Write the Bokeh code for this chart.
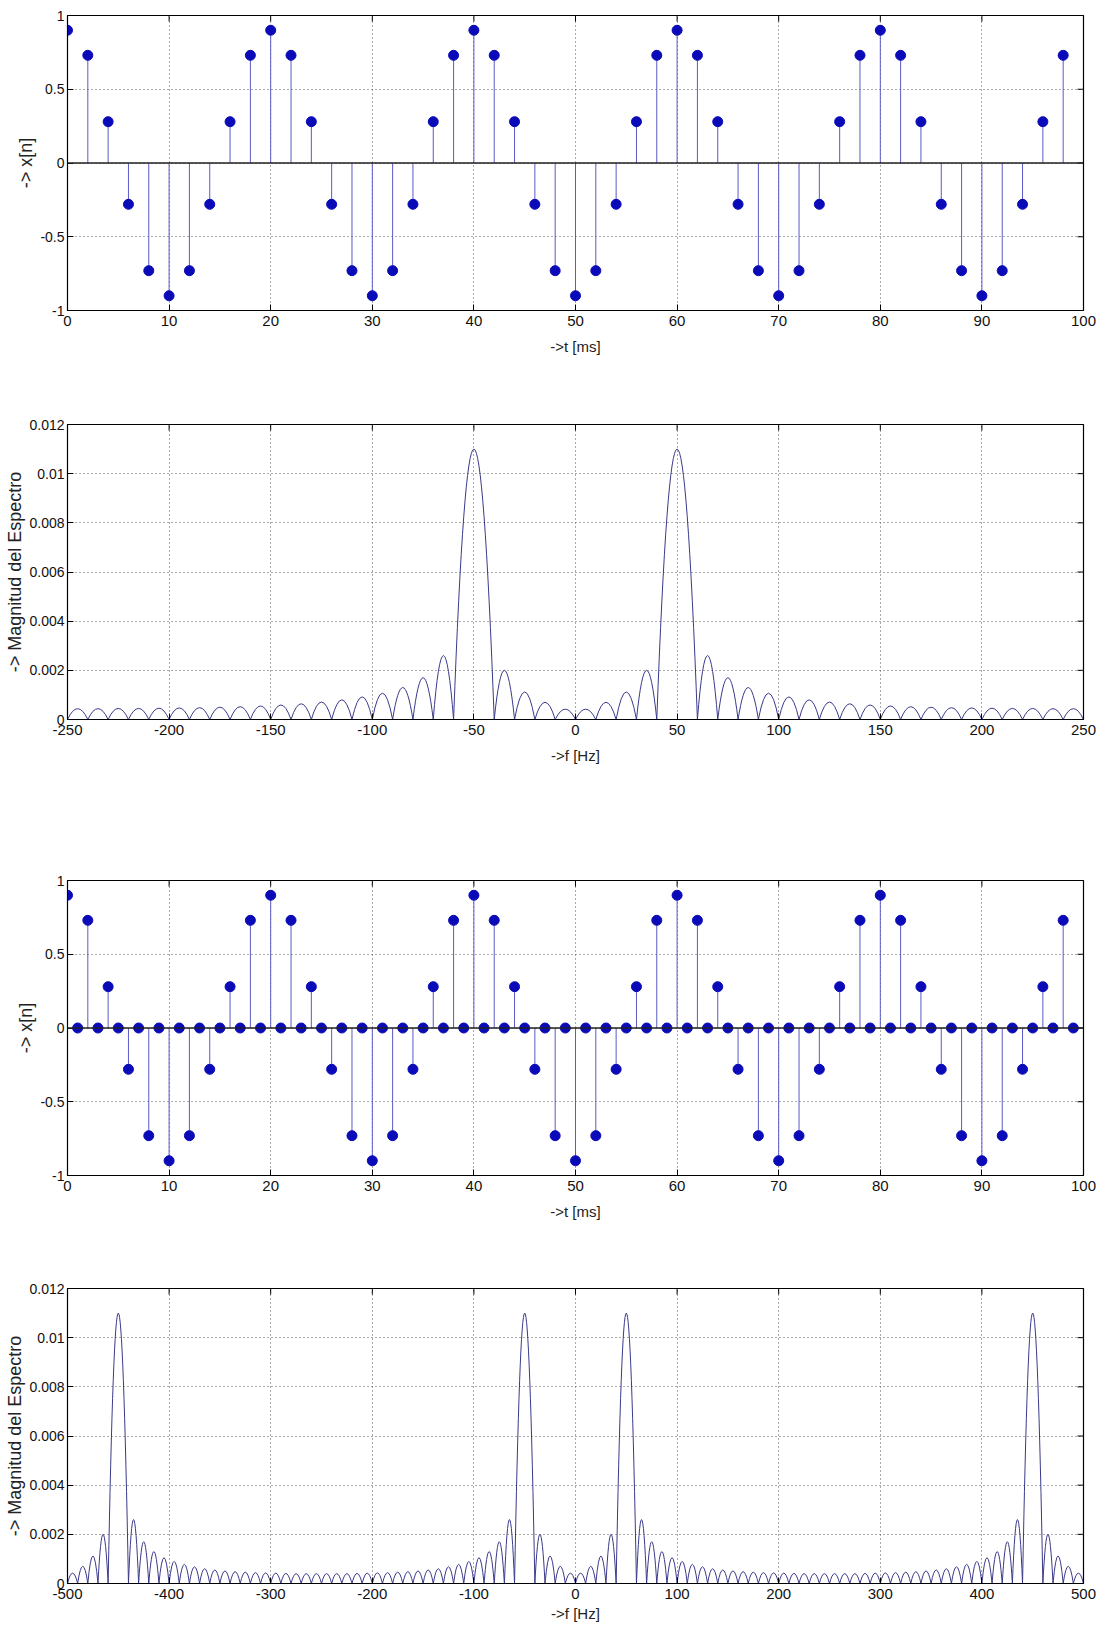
import math
from bokeh.plotting import figure
from bokeh.layouts import column
from bokeh.models import Range1d, FixedTicker, Span, ColumnDataSource
from bokeh.embed import file_html
from bokeh.resources import INLINE

# ---------------- data ----------------
# panel 1: sampled signal x[n], t in ms
t1 = [0, 2, 4, 6, 8, 10, 12, 14, 16, 18, 20, 22, 24, 26, 28, 30, 32, 34, 36, 38,
      40, 42, 44, 46, 48, 50, 52, 54, 56, 58, 60, 62, 64, 66, 68, 70, 72, 74, 76, 78,
      80, 82, 84, 86, 88, 90, 92, 94, 96, 98]
x1 = [0.9, 0.73, 0.28, -0.28, -0.73, -0.9, -0.73, -0.28, 0.28, 0.73,
      0.9, 0.73, 0.28, -0.28, -0.73, -0.9, -0.73, -0.28, 0.28, 0.73,
      0.9, 0.73, 0.28, -0.28, -0.73, -0.9, -0.73, -0.28, 0.28, 0.73,
      0.9, 0.73, 0.28, -0.28, -0.73, -0.9, -0.73, -0.28, 0.28, 0.73,
      0.9, 0.73, 0.28, -0.28, -0.73, -0.9, -0.73, -0.28, 0.28, 0.73]

# panel 3: zero-inserted signal
t3 = [0, 1, 2, 3, 4, 5, 6, 7, 8, 9, 10, 11, 12, 13, 14, 15, 16, 17, 18, 19,
      20, 21, 22, 23, 24, 25, 26, 27, 28, 29, 30, 31, 32, 33, 34, 35, 36, 37, 38, 39,
      40, 41, 42, 43, 44, 45, 46, 47, 48, 49, 50, 51, 52, 53, 54, 55, 56, 57, 58, 59,
      60, 61, 62, 63, 64, 65, 66, 67, 68, 69, 70, 71, 72, 73, 74, 75, 76, 77, 78, 79,
      80, 81, 82, 83, 84, 85, 86, 87, 88, 89, 90, 91, 92, 93, 94, 95, 96, 97, 98, 99]
x3 = [0.9, 0, 0.73, 0, 0.28, 0, -0.28, 0, -0.73, 0, -0.9, 0, -0.73, 0, -0.28, 0, 0.28, 0, 0.73, 0,
      0.9, 0, 0.73, 0, 0.28, 0, -0.28, 0, -0.73, 0, -0.9, 0, -0.73, 0, -0.28, 0, 0.28, 0, 0.73, 0,
      0.9, 0, 0.73, 0, 0.28, 0, -0.28, 0, -0.73, 0, -0.9, 0, -0.73, 0, -0.28, 0, 0.28, 0, 0.73, 0,
      0.9, 0, 0.73, 0, 0.28, 0, -0.28, 0, -0.73, 0, -0.9, 0, -0.73, 0, -0.28, 0, 0.28, 0, 0.73, 0,
      0.9, 0, 0.73, 0, 0.28, 0, -0.28, 0, -0.73, 0, -0.9, 0, -0.73, 0, -0.28, 0, 0.28, 0, 0.73, 0]

# panel 2: spectrum lobes (null frequencies in Hz and lobe peak heights)
f2_nulls = [-250, -240, -230, -220, -210, -200, -190, -180, -170, -160,
            -150, -140, -130, -120, -110, -100, -90, -80, -70, -60,
            -40, -30, -20, -10, 0, 10, 20, 30, 40,
            60, 70, 80, 90, 100, 110, 120, 130, 140, 150,
            160, 170, 180, 190, 200, 210, 220, 230, 240, 250]
f2_peaks = [0.00044, 0.00044, 0.00045, 0.00045, 0.00046, 0.00047, 0.00048, 0.00050, 0.00052, 0.00055,
            0.00059, 0.00064, 0.00071, 0.00080, 0.00092, 0.00107, 0.00130, 0.00170, 0.00260,
            0.0110,
            0.00200, 0.00112, 0.00070, 0.00042, 0.00042, 0.00070, 0.00112, 0.00200,
            0.0110,
            0.00260, 0.00170, 0.00130, 0.00107, 0.00092, 0.00080, 0.00071, 0.00064, 0.00059,
            0.00055, 0.00052, 0.00050, 0.00048, 0.00047, 0.00046, 0.00045, 0.00045, 0.00044, 0.00044]

# panel 4: spectrum of zero-inserted signal
f4_nulls = [-500, -490, -480, -470, -460,
            -440, -430, -420, -410, -400, -390, -380, -370, -360, -350, -340, -330, -320, -310, -300,
            -290, -280, -270, -260, -250, -240, -230, -220, -210, -200, -190, -180, -170, -160, -150,
            -140, -130, -120, -110, -100, -90, -80, -70, -60,
            -40, -30, -20, -10, 0, 10, 20, 30, 40,
            60, 70, 80, 90, 100, 110, 120, 130, 140, 150, 160, 170, 180, 190, 200, 210, 220, 230, 240,
            250, 260, 270, 280, 290, 300, 310, 320, 330, 340, 350, 360, 370, 380, 390, 400, 410, 420, 430, 440,
            460, 470, 480, 490, 500]
f4_peaks = [0.00042, 0.00070, 0.00112, 0.00200,
            0.0110,
            0.00260, 0.00170, 0.00130, 0.00105, 0.00090, 0.00078, 0.00068, 0.00060, 0.00055, 0.00051,
            0.00048, 0.00046, 0.00044, 0.00043, 0.00042, 0.00041, 0.00040, 0.00040, 0.00040,
            0.00040, 0.00040, 0.00040, 0.00041, 0.00042, 0.00043, 0.00044, 0.00046, 0.00048, 0.00051,
            0.00055, 0.00060, 0.00068, 0.00078, 0.00090, 0.00105, 0.00130, 0.00170, 0.00260,
            0.0110,
            0.00200, 0.00112, 0.00070, 0.00042, 0.00042, 0.00070, 0.00112, 0.00200,
            0.0110,
            0.00260, 0.00170, 0.00130, 0.00105, 0.00090, 0.00078, 0.00068, 0.00060, 0.00055, 0.00051,
            0.00048, 0.00046, 0.00044, 0.00043, 0.00042, 0.00041, 0.00040, 0.00040, 0.00040,
            0.00040, 0.00040, 0.00040, 0.00041, 0.00042, 0.00043, 0.00044, 0.00046, 0.00048, 0.00051,
            0.00055, 0.00060, 0.00068, 0.00078, 0.00090, 0.00105, 0.00130, 0.00170, 0.00260,
            0.0110,
            0.00200, 0.00112, 0.00070, 0.00042]

# axes limits, ticks and tick labels
t_limits = [0, 100]
x_limits = [-1, 1]
f2_limits = [-250, 250]
f4_limits = [-500, 500]
mag_limits = [0, 0.012]
t_ticks = [0, 10, 20, 30, 40, 50, 60, 70, 80, 90, 100]
t_tick_labels = ["0", "10", "20", "30", "40", "50", "60", "70", "80", "90", "100"]
x_ticks = [-1, -0.5, 0, 0.5, 1]
x_tick_labels = ["-1", "-0.5", "0", "0.5", "1"]
f2_ticks = [-250, -200, -150, -100, -50, 0, 50, 100, 150, 200, 250]
f2_tick_labels = ["-250", "-200", "-150", "-100", "-50", "0", "50", "100", "150", "200", "250"]
f4_ticks = [-500, -400, -300, -200, -100, 0, 100, 200, 300, 400, 500]
f4_tick_labels = ["-500", "-400", "-300", "-200", "-100", "0", "100", "200", "300", "400", "500"]
mag_ticks = [0, 0.002, 0.004, 0.006, 0.008, 0.01, 0.012]
mag_tick_labels = ["0", "0.002", "0.004", "0.006", "0.008", "0.01", "0.012"]

# ---------------- style ----------------
TICK_FONT = "Liberation Sans Narrow, Liberation Sans, sans-serif"
LABEL_FONT = "Liberation Sans, Arial, sans-serif"
STEM_COLOR = "#5a5ac8"
MARKER_COLOR = "#0a0ab8"
SPEC_COLOR = "#3a3a8a"
GRID_COLOR = "#555555"

FIG_W = 1097
FRAME_H = 295


def make_fig(xlim, ylim, xt, xlabels, yt, ylabels, xlabel, ylabel, b_top, b_bottom, xlab_standoff):
    p = figure(width=FIG_W, height=b_top + FRAME_H + b_bottom,
               x_range=Range1d(xlim[0], xlim[1]), y_range=Range1d(ylim[0], ylim[1]),
               output_backend="svg", toolbar_location=None,
               min_border_left=67, min_border_right=14,
               min_border_top=b_top, min_border_bottom=b_bottom)
    p.background_fill_color = "white"
    p.border_fill_color = "white"
    p.outline_line_color = "black"
    p.outline_line_width = 1.2
    p.xaxis.ticker = FixedTicker(ticks=xt)
    p.yaxis.ticker = FixedTicker(ticks=yt)
    p.xaxis.major_label_overrides = {v: s for v, s in zip(xt, xlabels)}
    p.yaxis.major_label_overrides = {v: s for v, s in zip(yt, ylabels)}
    for ax in (p.xaxis[0], p.yaxis[0]):
        ax.major_tick_in = 6
        ax.major_tick_out = 0
        ax.minor_tick_line_color = None
        ax.axis_line_color = "black"
        ax.major_tick_line_color = "black"
        ax.major_label_text_font = TICK_FONT
        ax.major_label_text_font_size = "14px"
        ax.major_label_text_color = "#111111"
        ax.axis_label_text_font = LABEL_FONT
        ax.axis_label_text_font_style = "normal"
        ax.axis_label_text_color = "#222222"
    p.xaxis.major_label_text_font_size = "15px"
    p.xaxis.major_label_standoff = 5
    p.xaxis.axis_label = xlabel
    p.xaxis.axis_label_text_font = TICK_FONT
    p.xaxis.axis_label_text_font_size = "15px"
    p.xaxis.axis_label_standoff = xlab_standoff
    p.yaxis.major_label_standoff = 3
    p.yaxis.axis_label = ylabel
    p.yaxis.axis_label_text_font_size = "18px"
    p.yaxis.axis_label_standoff = 1
    p.xgrid.grid_line_color = GRID_COLOR
    p.ygrid.grid_line_color = GRID_COLOR
    p.xgrid.grid_line_dash = "1 3"
    p.ygrid.grid_line_dash = "1 3"
    # MATLAB box: inward tick marks on the top and right edges as well
    p.scatter(x=xt, y=[ylim[1]] * len(xt), marker="dash", angle=math.pi / 2, size=12,
              line_color="black", line_width=1)
    p.scatter(x=[xlim[1]] * len(yt), y=yt, marker="dash", size=12,
              line_color="black", line_width=1)
    return p


def stem_panel(t, x, b_top, b_bottom):
    p = make_fig(t_limits, x_limits, t_ticks, t_tick_labels, x_ticks, x_tick_labels,
                 "->t [ms]", "-> x[n]", b_top, b_bottom, 9)
    src = ColumnDataSource(dict(t=t, x=x, z=[0] * len(t)))
    p.add_layout(Span(location=0, dimension="width", line_color="#222222", line_width=1.5))
    p.segment(x0="t", y0="z", x1="t", y1="x", source=src, line_color=STEM_COLOR, line_width=1)
    p.scatter(x="t", y="x", source=src, size=10, fill_color=MARKER_COLOR,
              line_color=MARKER_COLOR)
    return p


def spec_panel(nulls, peaks, flim, fticks, flabels, b_top, b_bottom, xlab_standoff):
    p = make_fig(flim, mag_limits, fticks, flabels, mag_ticks, mag_tick_labels,
                 "->f [Hz]", "-> Magnitud del Espectro", b_top, b_bottom, xlab_standoff)
    x0 = nulls[:-1]
    x1 = nulls[1:]
    src = ColumnDataSource(dict(
        x0=x0, x1=x1, y0=[0] * len(peaks), y1=[0] * len(peaks),
        cx=[(a + b) / 2 for a, b in zip(x0, x1)],
        cy=[2 * h for h in peaks]))
    p.quadratic(x0="x0", y0="y0", x1="x1", y1="y1", cx="cx", cy="cy", source=src,
                line_color=SPEC_COLOR, line_width=1)
    return p


p1 = stem_panel(t1, x1, 15, 80)
p2 = spec_panel(f2_nulls, f2_peaks, f2_limits, f2_ticks, f2_tick_labels, 34, 100, 9)
p3 = stem_panel(t3, x3, 61, 79)
p4 = spec_panel(f4_nulls, f4_peaks, f4_limits, f4_ticks, f4_tick_labels, 34, 44, 3)

layout = column(p1, p2, p3, p4, spacing=0)
open("out.html", "w").write(file_html(layout, INLINE))
